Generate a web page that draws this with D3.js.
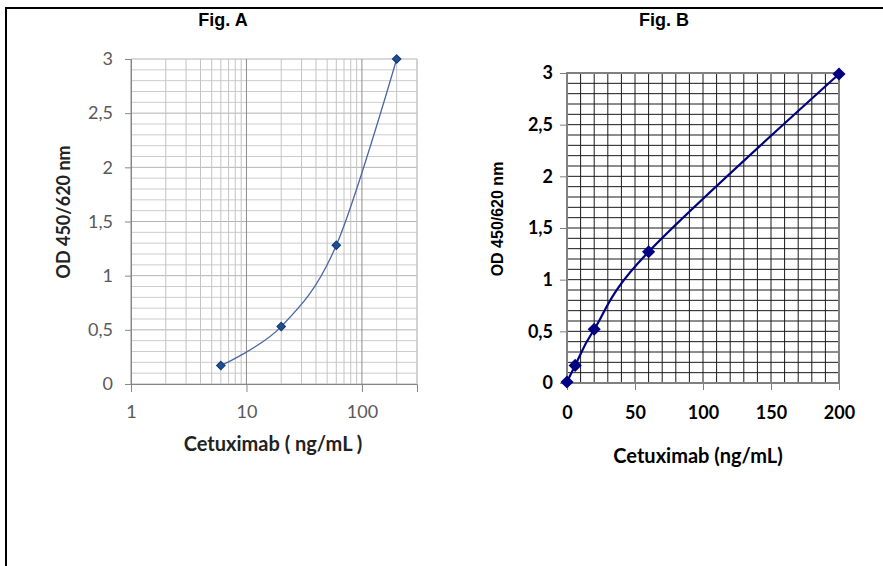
<!DOCTYPE html>
<html lang="en">
<head>
<meta charset="utf-8"/>
<title>Cetuximab standard curves</title>
<script src="https://d3js.org/d3.v7.min.js"></script>
<style>
  body { margin: 0; background: #fff; }
  svg { display: block; }
</style>
</head>
<body>
<script>
// data
const concA = [6, 20, 60, 200]
const odA = [0.17, 0.53, 1.28, 3.0]
const concB = [0, 6, 20, 60, 200]
const odB = [0.01, 0.17, 0.52, 1.27, 2.99]

const yTicks = [0, 0.5, 1, 1.5, 2, 2.5, 3]
const xTicksA = [1, 10, 100]
const xTicksB = [0, 50, 100, 150, 200]

const comma = d => String(d).replace(".", ",")

const svg = d3.select("body").append("svg")
  .attr("width", 883).attr("height", 566)

// frame (top + left)
svg.append("path").attr("d", "M6,566V8H883")
  .attr("fill", "none").attr("stroke", "#000").attr("stroke-width", 2)

// ---------------- Fig. A (log x) ----------------
const xA = d3.scaleLog().domain([1, 300]).range([131, 417])
const yA = d3.scaleLinear().domain([0, 3]).range([384, 59])
const gA = svg.append("g")

gA.selectAll(".hminor").data(d3.range(0, 31).map(i => i / 10)).join("line")
  .attr("x1", xA.range()[0]).attr("x2", xA.range()[1])
  .attr("y1", d => yA(d)).attr("y2", d => yA(d))
  .attr("stroke", (d, i) => i % 5 === 0 ? "#b4b4b4" : "#cccccc").attr("stroke-width", 1)

gA.selectAll(".vminor").data(xA.ticks()).join("line")
  .attr("x1", d => xA(d)).attr("x2", d => xA(d))
  .attr("y1", yA(0)).attr("y2", yA(3))
  .attr("stroke", d => xTicksA.includes(d) ? "#8c8c8c" : "#c4c4c4").attr("stroke-width", 1)
// right edge of plot area
gA.append("line").attr("x1", xA(300)).attr("x2", xA(300))
  .attr("y1", yA(0)).attr("y2", yA(3)).attr("stroke", "#c4c4c4")

const axLA = d3.axisLeft(yA).tickValues(yTicks).tickFormat(comma).tickSize(6).tickPadding(12)
gA.append("g").attr("transform", `translate(${xA(1)},0)`).call(axLA)
  .call(g => g.select(".domain").attr("stroke", "#868686"))
  .call(g => g.selectAll(".tick line").attr("stroke", "#868686"))
  .call(g => g.selectAll("text").attr("fill", "#595959")
    .style("font", "18px Lato"))

const axBA = d3.axisBottom(xA).tickValues(xTicksA).tickFormat(d3.format("d")).tickSize(8).tickPadding(13)
gA.append("g").attr("transform", `translate(0,${yA(0)})`).call(axBA)
  .call(g => g.select(".domain").attr("stroke", "#868686"))
  .call(g => g.selectAll(".tick line").attr("stroke", "#868686"))
  .call(g => g.selectAll("text").attr("fill", "#595959")
    .style("font", "18px Lato"))

const ptsA = concA.map((c, i) => [xA(c), yA(odA[i])])
gA.append("path").attr("d", d3.line().curve(d3.curveCatmullRom.alpha(0))(ptsA))
  .attr("fill", "none").attr("stroke", "#4a68a4").attr("stroke-width", 1.3)
gA.selectAll(".mk").data(ptsA).join("path")
  .attr("d", d3.symbol(d3.symbolDiamond2, 44))
  .attr("transform", d => `translate(${d[0]},${d[1]})`)
  .attr("fill", "#1f4f96").attr("stroke", "#173a70").attr("stroke-width", 1.2)

svg.append("text").attr("x", 223).attr("y", 26).attr("text-anchor", "middle")
  .style("font", "bold 18px 'Liberation Sans', Arial").text("Fig. A")
svg.append("text").attr("x", 273).attr("y", 451).attr("text-anchor", "middle")
  .style("font", "bold 20px Lato").attr("fill", "#222").text("Cetuximab ( ng/mL )")
svg.append("text").attr("transform", "translate(70,212) rotate(-90)").attr("text-anchor", "middle")
  .style("font", "bold 18px Lato").attr("fill", "#222").text("OD 450/620 nm")

// ---------------- Fig. B (linear x) ----------------
const xB = d3.scaleLinear().domain([0, 200]).range([567, 839])
const yB = d3.scaleLinear().domain([0, 3]).range([383, 73])
const gB = svg.append("g")

gB.selectAll(".hgrid").data(d3.range(1, 30).map(i => i / 10)).join("line")
  .attr("x1", xB(0)).attr("x2", xB(200))
  .attr("y1", d => yB(d)).attr("y2", d => yB(d))
  .attr("stroke", "#1a1a1a").attr("stroke-width", 1)
gB.selectAll(".vgrid").data(d3.range(10, 200, 10)).join("line")
  .attr("x1", d => xB(d)).attr("x2", d => xB(d))
  .attr("y1", yB(0)).attr("y2", yB(3))
  .attr("stroke", "#1a1a1a").attr("stroke-width", 1)
gB.append("rect").attr("x", xB(0)).attr("y", yB(3))
  .attr("width", xB(200) - xB(0)).attr("height", yB(0) - yB(3))
  .attr("fill", "none").attr("stroke", "#808080").attr("stroke-width", 2)

const axLB = d3.axisLeft(yB).tickValues(yTicks).tickFormat(comma).tickSize(7).tickPadding(7)
gB.append("g").attr("transform", `translate(${xB(0)},0)`).call(axLB)
  .call(g => g.select(".domain").remove())
  .call(g => g.selectAll(".tick line").attr("stroke", "#808080"))
  .call(g => g.selectAll("text").attr("fill", "#000")
    .style("font", "bold 18px Lato"))

const axBB = d3.axisBottom(xB).tickValues(xTicksB).tickSize(7).tickPadding(16)
gB.append("g").attr("transform", `translate(0,${yB(0)})`).call(axBB)
  .call(g => g.select(".domain").remove())
  .call(g => g.selectAll(".tick line").attr("stroke", "#808080"))
  .call(g => g.selectAll("text").attr("fill", "#000")
    .style("font", "bold 18px Lato"))

const ptsB = concB.map((c, i) => [xB(c), yB(odB[i])])
gB.append("path").attr("d", d3.line().curve(d3.curveCatmullRom.alpha(0))(ptsB))
  .attr("fill", "none").attr("stroke", "#000080").attr("stroke-width", 2.2)
gB.selectAll(".mk").data(ptsB).join("path")
  .attr("d", d3.symbol(d3.symbolDiamond2, 110))
  .attr("transform", d => `translate(${d[0]},${d[1]})`)
  .attr("fill", "#000080")

svg.append("text").attr("x", 664).attr("y", 26).attr("text-anchor", "middle")
  .style("font", "bold 18px 'Liberation Sans', Arial").text("Fig. B")
svg.append("text").attr("x", 698).attr("y", 463).attr("text-anchor", "middle")
  .style("font", "bold 20px Lato").text("Cetuximab (ng/mL)")
svg.append("text").attr("transform", "translate(503,219) rotate(-90)").attr("text-anchor", "middle")
  .style("font", "bold 16px 'Liberation Sans', Arial").text("OD 450/620 nm")
</script>
</body>
</html>
